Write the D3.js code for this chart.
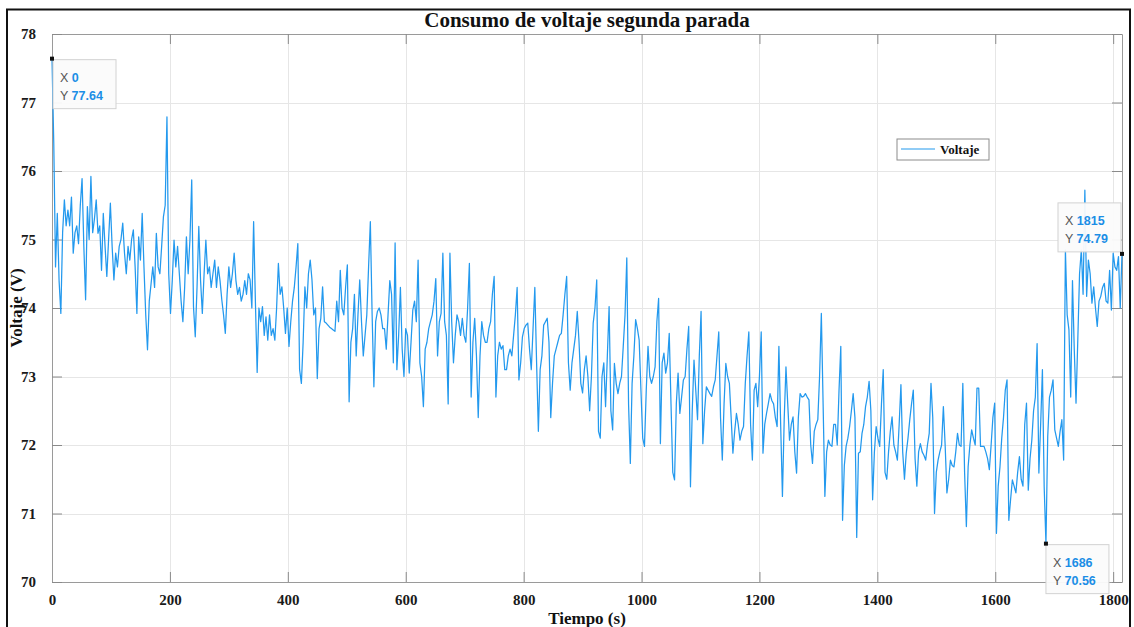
<!DOCTYPE html>
<html>
<head>
<meta charset="utf-8">
<script src="https://cdn.jsdelivr.net/npm/d3@7"></script>
<style>
  html, body { margin: 0; padding: 0; background: #fff; }
  svg { display: block; }
</style>
</head>
<body>
<svg id="chart" width="1134" height="627"></svg>
<script>
// Voltage samples, one every 3 s from t = 0 s to t = 1815 s
const sampleStep = 3;
const voltage = [
  77.64, 76.4, 74.6, 75.38, 74.4, 73.92, 75.1, 75.58, 75.2, 75.43,
  75.2, 75.62, 74.8, 75.1, 75.2, 74.94, 75.5, 75.89, 74.9, 74.12,
  75.48, 75.0, 75.92, 75.1, 75.3, 75.58, 75.09, 75.2, 74.55, 75.38,
  74.9, 74.46, 75.0, 75.53, 74.9, 74.41, 74.8, 74.6, 74.9, 75.0,
  75.24, 74.8, 74.5, 74.9, 74.7, 75.0, 75.14, 74.6, 73.92, 75.04,
  74.7, 75.38, 74.6, 73.9, 73.39, 74.1, 74.35, 74.6, 74.3, 75.09,
  74.6, 74.5, 74.9, 75.33, 75.5, 76.79, 74.5, 73.92, 74.4, 74.99,
  74.6, 74.9, 74.5, 74.1, 73.8, 74.3, 75.04, 74.5, 75.0, 75.87,
  74.02, 73.58, 74.3, 75.19, 74.4, 73.92, 74.5, 74.99, 74.5, 74.6,
  74.3, 74.5, 74.7, 74.3, 74.6, 74.4, 74.12, 73.9, 73.63, 74.2,
  74.6, 74.3, 74.5, 74.8, 74.4, 74.2, 74.3, 74.1, 74.2, 74.4,
  74.2, 74.5, 74.41, 74.0, 75.26, 74.1, 73.06, 74.0, 73.8, 74.02,
  73.6, 73.87, 73.53, 73.9, 73.6, 73.7, 73.53, 74.0, 74.65, 74.2,
  74.31, 74.0, 73.63, 74.0, 73.44, 73.8, 74.1, 74.3, 74.6, 74.94,
  73.1, 72.9, 73.5, 74.31, 74.0, 74.5, 74.7, 74.41, 73.9, 74.0,
  72.97, 73.7, 73.85, 74.31, 73.8, 73.78, 73.75, 73.72, 73.7, 73.68,
  73.66, 74.1, 73.8, 74.55, 74.0, 73.9, 74.3, 74.63, 72.63, 73.5,
  73.7, 74.2, 73.3, 73.9, 74.41, 73.8, 73.3, 73.6, 73.9, 74.6,
  75.26, 73.9, 72.85, 73.8, 73.95, 74.0, 73.9, 73.7, 73.7, 73.4,
  73.9, 74.4, 74.2, 73.2, 74.95, 73.1, 73.6, 74.3, 73.4, 73.0,
  73.7, 73.6, 73.05, 73.5, 73.97, 74.1, 73.8, 74.7, 73.2, 73.0,
  72.56, 73.4, 73.5, 73.7, 73.8, 73.9, 74.1, 74.43, 73.3, 73.8,
  73.92, 74.8, 73.8, 73.6, 72.6, 74.8, 73.8, 73.2, 73.6, 73.9,
  73.8, 73.6, 73.85, 73.6, 73.5, 74.0, 74.65, 72.7, 73.5, 73.85,
  73.3, 72.4, 73.3, 73.8, 73.6, 73.5, 73.5, 73.7, 73.8, 74.2,
  74.46, 72.7, 73.3, 73.5, 73.4, 73.45, 73.1, 73.1, 73.3, 73.4,
  73.3, 73.6, 73.9, 74.3, 72.95, 73.2, 73.58, 73.7, 73.75, 73.78,
  73.4, 73.1, 73.7, 74.3, 73.2, 72.2, 73.1, 73.3, 73.75, 73.8,
  73.85, 73.5, 72.4, 72.9, 73.3, 73.4, 73.5, 73.6, 73.63, 73.9,
  74.2, 74.46, 73.2, 72.8, 73.2, 73.4, 73.6, 73.95, 73.5, 72.9,
  72.76, 73.1, 73.3, 73.0, 72.5, 73.0, 73.78, 74.0, 74.41, 72.2,
  72.1, 73.0, 73.2, 72.56, 73.3, 74.02, 72.5, 72.22, 73.19, 72.9,
  72.75, 72.9, 73.0, 73.44, 73.9, 74.73, 72.6, 71.73, 72.9, 73.3,
  73.83, 73.7, 73.53, 72.8, 72.1, 71.98, 72.8, 73.44, 73.0, 72.9,
  73.0, 73.14, 73.8, 74.14, 72.02, 73.2, 73.34, 73.05, 73.2, 73.63,
  72.6, 71.6, 71.49, 72.6, 73.05, 72.46, 72.7, 72.95, 73.0, 73.4,
  73.73, 71.39, 72.5, 73.24, 72.8, 72.37, 73.3, 73.95, 72.02, 72.5,
  72.85, 72.8, 72.75, 72.71, 72.85, 72.95, 73.3, 73.65, 72.4, 71.78,
  72.6, 73.19, 73.0, 72.9, 72.4, 71.88, 72.2, 72.46, 72.3, 72.07,
  72.2, 72.27, 72.9, 73.3, 73.65, 72.3, 71.78, 72.8, 72.9, 72.56,
  73.0, 73.65, 71.88, 72.3, 72.46, 72.6, 72.75, 72.65, 72.6, 72.4,
  72.27, 73.44, 72.3, 71.25, 72.37, 73.14, 72.6, 72.07, 72.3, 72.41,
  71.9, 71.59, 72.4, 72.75, 72.7, 72.71, 72.75, 72.7, 72.66, 72.0,
  71.73, 72.2, 72.3, 72.37, 73.0, 73.92, 72.6, 71.25, 71.9, 72.07,
  72.0, 71.98, 72.3, 72.3, 72.0, 72.8, 73.44, 70.9, 71.7, 71.98,
  72.1, 72.27, 72.5, 72.75, 72.4, 70.65, 71.88, 71.9, 72.17, 72.3,
  72.56, 72.7, 72.93, 72.5, 71.2, 71.9, 72.27, 72.1, 71.98, 72.6,
  73.1, 71.6, 71.5, 71.9, 72.2, 72.41, 72.0, 71.9, 71.78, 72.3,
  72.88, 71.9, 71.5, 71.88, 72.1, 72.37, 72.6, 72.8, 71.8, 71.4,
  71.9, 72.02, 71.9, 71.85, 71.78, 72.0, 72.17, 72.9, 72.4, 71.0,
  71.6, 71.78, 71.9, 72.0, 72.56, 72.0, 71.3, 71.5, 71.78, 71.7,
  71.68, 71.9, 72.17, 72.0, 71.98, 72.9, 71.6, 70.81, 71.68, 72.0,
  72.22, 72.1, 72.0, 72.83, 72.83, 71.98, 71.98, 71.98, 71.9, 71.8,
  71.64, 72.0, 72.4, 72.61, 70.71, 71.4, 71.68, 72.1, 72.4, 72.8,
  72.95, 70.9, 71.2, 71.49, 71.4, 71.3, 71.6, 71.83, 71.5, 71.4,
  72.3, 72.61, 71.34, 71.8, 72.07, 72.5, 72.7, 73.48, 71.59, 72.3,
  73.1, 71.39, 70.56, 72.12, 72.7, 72.8, 72.95, 72.22, 72.1, 71.98,
  72.2, 72.37, 71.78, 74.85, 73.9, 73.68, 72.7, 74.4, 73.4, 72.61,
  73.53, 74.5, 74.85, 74.2, 75.72, 74.17, 74.7, 74.5, 74.07, 74.31,
  74.0, 73.73, 74.1, 74.17, 74.3, 74.36, 74.1, 74.07, 74.55, 73.97,
  74.8, 74.6, 74.55, 74.75, 74.0, 74.79
];

const xTicks = [0, 200, 400, 600, 800, 1000, 1200, 1400, 1600, 1800];
const yTicks = [70, 71, 72, 73, 74, 75, 76, 77, 78];
const tipTimes = [0, 1815, 1686];

const titleText = "Consumo de voltaje segunda parada";
const xLabel = "Tiempo (s)";
const yLabel = "Voltaje (V)";
const seriesName = "Voltaje";

const points = voltage.map((v, i) => ({ t: i * sampleStep, v }));

const svg = d3.select("#chart");
const serif = "'Liberation Serif', 'Times New Roman', serif";
const sans = "'Liberation Sans', Arial, sans-serif";
const lineColor = "#2399ee";

const plot = { left: 52, right: 1122, top: 34, bottom: 582 };
const x = d3.scaleLinear().domain([0, 1815]).range([plot.left, plot.right]);
const y = d3.scaleLinear().domain([70, 78]).range([plot.bottom, plot.top]);

// Figure frame
svg.append("rect")
  .attr("x", 7).attr("y", 9.5).attr("width", 1123).attr("height", 640)
  .attr("fill", "none").attr("stroke", "#111").attr("stroke-width", 2);

// Grid
const grid = svg.append("g").attr("stroke", "#e6e6e6").attr("stroke-width", 1);
grid.selectAll(".gx").data(xTicks.filter(d => d > 0)).join("line")
  .attr("x1", d => Math.round(x(d)) + 0.5).attr("x2", d => Math.round(x(d)) + 0.5)
  .attr("y1", plot.top).attr("y2", plot.bottom);
grid.selectAll(".gy").data(yTicks.filter(d => d > 70 && d < 78)).join("line")
  .attr("y1", d => Math.round(y(d)) + 0.5).attr("y2", d => Math.round(y(d)) + 0.5)
  .attr("x1", plot.left).attr("x2", plot.right);

// Axes (inward ticks on all four sides)
const axisStyle = g => {
  g.select(".domain").attr("stroke", "#9a9a9a");
  g.selectAll(".tick line").attr("stroke", "#8a8a8a");
  g.selectAll(".tick text")
    .attr("font-family", serif).attr("font-weight", "bold")
    .attr("font-size", 15).attr("fill", "#1a1a1a");
};
svg.append("g").attr("transform", `translate(0,${plot.bottom})`)
  .call(d3.axisBottom(x).tickValues(xTicks).tickFormat(d3.format("d"))
    .tickSizeInner(-10).tickSizeOuter(0).tickPadding(12))
  .call(axisStyle);
svg.append("g").attr("transform", `translate(0,${plot.top})`)
  .call(d3.axisTop(x).tickValues(xTicks).tickFormat("")
    .tickSizeInner(-10).tickSizeOuter(0))
  .call(axisStyle);
svg.append("g").attr("transform", `translate(${plot.left},0)`)
  .call(d3.axisLeft(y).tickValues(yTicks).tickFormat(d3.format("d"))
    .tickSizeInner(-10).tickSizeOuter(0).tickPadding(16))
  .call(axisStyle);
svg.append("g").attr("transform", `translate(${plot.right},0)`)
  .call(d3.axisRight(y).tickValues(yTicks).tickFormat("")
    .tickSizeInner(-10).tickSizeOuter(0))
  .call(axisStyle);

// Series
const line = d3.line().x(d => x(d.t)).y(d => y(d.v));
svg.append("path").datum(points)
  .attr("fill", "none").attr("stroke", lineColor)
  .attr("stroke-width", 1.25).attr("stroke-linejoin", "round")
  .attr("d", line);

// Title and axis labels
svg.append("text").attr("x", (plot.left + plot.right) / 2).attr("y", 27)
  .attr("text-anchor", "middle").attr("font-family", serif)
  .attr("font-weight", "bold").attr("font-size", 21).attr("fill", "#111")
  .text(titleText);
svg.append("text").attr("x", (plot.left + plot.right) / 2).attr("y", 624)
  .attr("text-anchor", "middle").attr("font-family", serif)
  .attr("font-weight", "bold").attr("font-size", 17).attr("fill", "#111")
  .text(xLabel);
svg.append("text")
  .attr("transform", `translate(22,${(plot.top + plot.bottom) / 2}) rotate(-90)`)
  .attr("text-anchor", "middle").attr("font-family", serif)
  .attr("font-weight", "bold").attr("font-size", 17).attr("fill", "#111")
  .text(yLabel);

// Legend
const legend = svg.append("g").attr("transform", "translate(897,139)");
legend.append("rect").attr("width", 92).attr("height", 21)
  .attr("fill", "#fff").attr("stroke", "#8c8c8c").attr("stroke-width", 1);
legend.append("line").attr("x1", 4).attr("x2", 38).attr("y1", 10).attr("y2", 10)
  .attr("stroke", lineColor).attr("stroke-width", 1.1);
legend.append("text").attr("x", 43).attr("y", 15)
  .attr("font-family", serif).attr("font-weight", "bold").attr("font-size", 13)
  .attr("fill", "#111").text(seriesName);

// Data tips
const tipLayout = {
  0: { dx: 1, dy: 1 },
  1815: { dx: -64, dy: -51 },
  1686: { dx: 0, dy: 1 }
};
tipTimes.forEach(t => {
  const p = points.find(d => d.t === t);
  const px = x(p.t), py = y(p.v);
  const lay = tipLayout[t];
  const g = svg.append("g").attr("transform", `translate(${px + lay.dx},${py + lay.dy})`);
  g.append("rect").attr("width", 63).attr("height", 49)
    .attr("fill", "#fbfbfb").attr("fill-opacity", 0.95)
    .attr("stroke", "#d2d2d2").attr("stroke-width", 1);
  const rows = [["X", d3.format("d")(p.t)], ["Y", d3.format(".2f")(p.v)]];
  rows.forEach((r, i) => {
    const tx = g.append("text").attr("x", 7).attr("y", 22 + i * 18)
      .attr("font-family", sans).attr("font-size", 12.5);
    tx.append("tspan").attr("fill", "#555").text(r[0] + " ");
    tx.append("tspan").attr("fill", "#1c8ee6").attr("font-weight", "bold").text(r[1]);
  });
  svg.append("rect").attr("x", px - 2).attr("y", py - 2).attr("width", 4).attr("height", 4)
    .attr("fill", "#111");
});
</script>
</body>
</html>
